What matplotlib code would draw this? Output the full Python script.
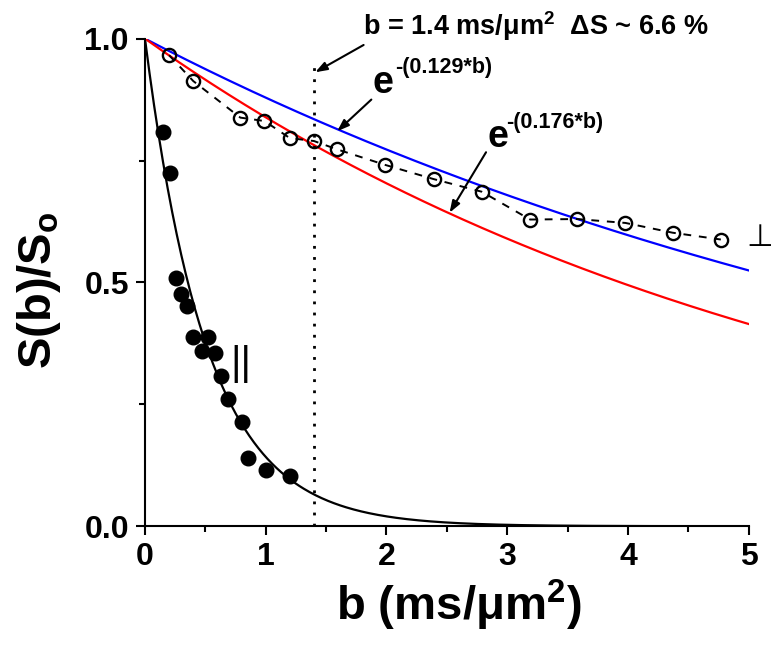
import numpy as np
import matplotlib
matplotlib.use('Agg')
import matplotlib.pyplot as plt

plt.rcParams['font.family'] = ['Liberation Sans', 'DejaVu Sans']
plt.rcParams['font.weight'] = 'bold'
plt.rcParams['axes.labelweight'] = 'bold'
plt.rcParams['mathtext.fontset'] = 'custom'
plt.rcParams['mathtext.rm'] = 'Liberation Sans:bold'
plt.rcParams['mathtext.it'] = 'Liberation Sans:bold'
plt.rcParams['mathtext.bf'] = 'Liberation Sans:bold'

# perpendiculaire (cercles vides)
b_perp = [0.2, 0.4, 0.79, 0.99, 1.2, 1.4, 1.59, 1.99, 2.39, 2.79, 3.19, 3.58, 3.98, 4.37, 4.77]
s_perp = [0.966, 0.913, 0.838, 0.831, 0.796, 0.790, 0.773, 0.741, 0.712,
          0.686, 0.629, 0.630, 0.622, 0.602, 0.588]

# parallele (cercles pleins)
b_par = [0.15, 0.21, 0.26, 0.30, 0.35, 0.40, 0.47, 0.52, 0.58, 0.63, 0.69, 0.80, 0.85, 1.0, 1.2]
s_par = [0.809, 0.725, 0.510, 0.476, 0.452, 0.389, 0.360, 0.389, 0.356,
         0.308, 0.260, 0.214, 0.140, 0.115, 0.104]

# constantes des modeles exponentiels
d_par = 1.95
d_blue = 0.129
d_red = 0.176
b_mark = 1.4

b = np.linspace(0, 5, 400)

fig, ax = plt.subplots(figsize=(7.79, 6.46), dpi=100)
fig.subplots_adjust(left=0.1861, right=0.961, bottom=0.1854, top=0.9402)

ax.plot(b, np.exp(-d_par * b), color='black', lw=1.6)
ax.plot(b, np.exp(-d_blue * b), color='#0000ff', lw=1.6)
ax.plot(b, np.exp(-d_red * b), color='#ff0000', lw=1.6)
ax.plot(b_perp, s_perp, color='black', ls=(0, (4, 4)), lw=1.4,
        marker='o', ms=9.5, mfc='none', mec='black', mew=1.7)
ax.plot(b_par, s_par, 'o', color='black', ms=10.5)
ax.plot([b_mark, b_mark], [0, 0.955], color='black', lw=2, ls=(0, (1, 3)))

ax.set_xlim(0, 5)
ax.set_ylim(0, 1)
for side in ['top', 'right']:
    ax.spines[side].set_visible(False)
for side in ['left', 'bottom']:
    ax.spines[side].set_linewidth(1.5)

ax.set_xticks(range(6))
ax.set_xticks(np.arange(0.5, 5, 1), minor=True)
ax.set_yticks([0, 0.5, 1])
ax.set_yticks([0.25, 0.75], minor=True)
ax.yaxis.set_major_formatter('{x:.1f}')
ax.tick_params(which='major', direction='out', length=6.5, width=1.5, labelsize=23, pad=5)
ax.tick_params(which='minor', direction='out', length=4, width=1.5)

ax.set_xlabel('b (ms/μm$^2$)', fontsize=34)
ax.set_ylabel('S(b)/S$_o$', fontsize=34)
ax.xaxis.set_label_coords(0.52, -0.105)
ax.yaxis.set_label_coords(-0.135, 0.484)

ax.text(1.81, 1.007, 'b = 1.4 ms/μm$^2$  ΔS ~ 6.6 %', fontsize=19.5, va='baseline')
ax.text(1.886, 0.888, 'e', fontsize=27, va='baseline')
ax.text(2.068, 0.929, '-(0.129*b)', fontsize=15.5, va='baseline')
ax.text(2.837, 0.778, 'e', fontsize=27, va='baseline')
ax.text(2.994, 0.817, '-(0.176*b)', fontsize=15.5, va='baseline')
ax.text(0.794, 0.332, '||', fontsize=29, fontweight='normal', ha='center', va='center')
ax.text(5.09, 0.592, '⊥', fontsize=22, family='DejaVu Sans', fontweight='normal',
        ha='center', va='center', clip_on=False)

arrows = [((1.811, 0.987), (1.410, 0.931)),
          ((1.875, 0.875), (1.592, 0.810)),
          ((2.825, 0.767), (2.523, 0.643))]
for tail, head in arrows:
    ax.annotate('', xy=head, xytext=tail,
                arrowprops=dict(arrowstyle='-|>,head_length=0.7,head_width=0.25',
                                lw=1.5, color='black', shrinkA=0, shrinkB=0))

fig.savefig('out.png', dpi=100)
